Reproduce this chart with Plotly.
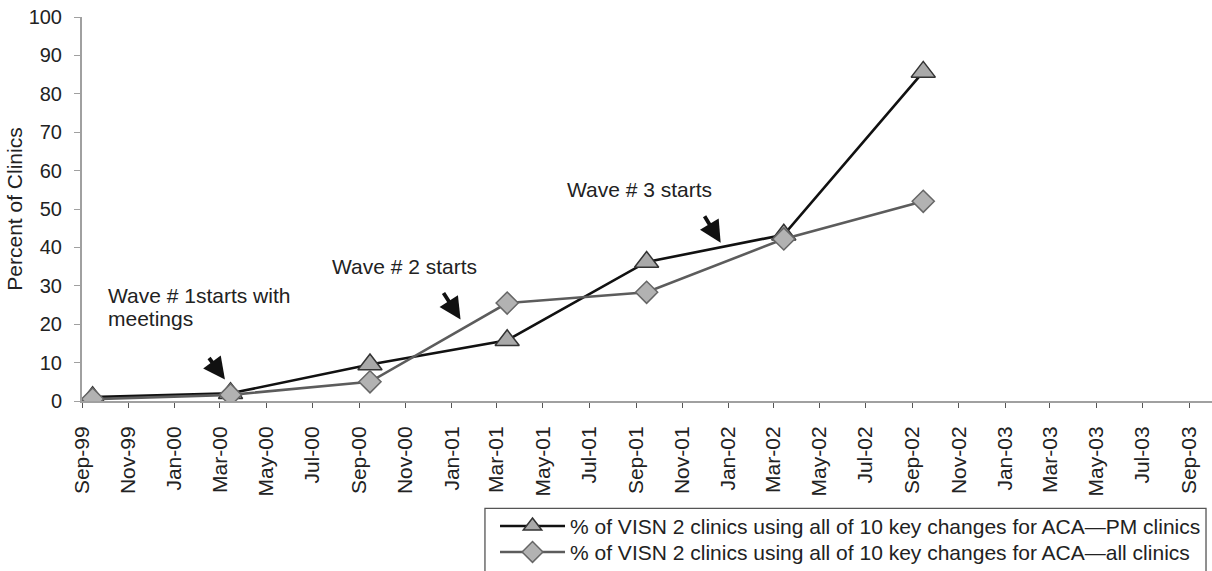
import plotly.graph_objects as go

dates = ["1999-09-15", "2000-03-15", "2000-09-15", "2001-03-15",
         "2001-09-15", "2002-03-15", "2002-09-15"]
pm_clinics = [1.0, 2.0, 9.5, 15.8, 36.2, 43.3, 85.7]
all_clinics = [0.5, 1.6, 5.0, 25.5, 28.3, 42.2, 52.0]

name_pm = "% of VISN 2 clinics using all of 10 key changes for ACA\u2014PM clinics"
name_all = "% of VISN 2 clinics using all of 10 key changes for ACA\u2014all clinics"

FONT = "Liberation Sans, Arial, sans-serif"

fig = go.Figure()
fig.add_trace(go.Scatter(
    x=dates, y=pm_clinics, name=name_pm, mode="lines+markers",
    legend="legend",
    line=dict(color="#111111", width=2.6),
    marker=dict(symbol="triangle-up", size=21, color="#a9a9a9",
                line=dict(color="#333333", width=1.5)),
))
fig.add_trace(go.Scatter(
    x=dates, y=all_clinics, name=name_all, mode="lines+markers",
    legend="legend2",
    line=dict(color="#5c5c5c", width=2.6),
    marker=dict(symbol="diamond", size=17, color="#b2b2b2",
                line=dict(color="#666666", width=1.5)),
))

ann_font = dict(family=FONT, size=21, color="#222222")
annotations = [
    dict(text="Wave # 1starts with", x=0.0215, y=0.275),
    dict(text="meetings", x=0.0215, y=0.214),
    dict(text="Wave # 2 starts", x=0.2195, y=0.35),
    dict(text="Wave # 3 starts", x=0.4274, y=0.55),
]
for a in annotations:
    fig.add_annotation(xref="paper", yref="paper", showarrow=False,
                       xanchor="left", yanchor="middle", align="left",
                       font=ann_font, **a)

arrows = [
    (0.1265, 0.056, -17, -23),
    (0.3350, 0.212, -18, -28),
    (0.5652, 0.412, -17, -28),
]
for x, y, ax, ay in arrows:
    fig.add_annotation(xref="paper", yref="paper", x=x, y=y, ax=ax, ay=ay,
                       text="", showarrow=True, arrowhead=2, arrowsize=1.15,
                       arrowwidth=3.8, arrowcolor="#111111")

# legend frame
fig.add_shape(type="rect", xref="paper", yref="paper",
              x0=0.3566, x1=0.9947, y0=-0.2796, y1=-0.49,
              line=dict(color="#555555", width=1.3), fillcolor="rgba(0,0,0,0)")

leg_common = dict(xanchor="left", yanchor="middle", borderwidth=0,
                  bgcolor="rgba(0,0,0,0)", itemwidth=65,
                  font=dict(family=FONT, size=21, color="#222222"))

fig.update_layout(
    width=1212, height=571,
    margin=dict(l=82, r=0, t=17, b=170, autoexpand=False),
    paper_bgcolor="white", plot_bgcolor="white",
    font=dict(family=FONT, size=20, color="#222222"),
    showlegend=True,
    legend=dict(x=0.3655, y=-0.3264, **leg_common),
    legend2=dict(x=0.3655, y=-0.394, **leg_common),
)
fig.update_xaxes(
    type="date", range=["1999-09-01", "2003-10-01"],
    tick0="1999-09-01", dtick="M2", tickformat="%b-%y", tickangle=-90,
    showgrid=False, zeroline=False, showline=True, linecolor="#a0a0a0",
    linewidth=2, ticks="outside", ticklen=5, tickcolor="#555555",
    ticklabelstandoff=10,
    tickfont=dict(family=FONT, size=21, color="#222222"),
)
fig.update_yaxes(
    range=[0, 100], dtick=10, showgrid=False, zeroline=False,
    showline=True, linecolor="#a0a0a0", linewidth=2,
    ticks="outside", ticklen=6, tickcolor="#a0a0a0", ticklabelstandoff=8,
    tickfont=dict(family=FONT, size=20, color="#222222"),
    title=dict(text="Percent of Clinics", standoff=0,
               font=dict(family=FONT, size=21, color="#222222")),
)

fig.write_html("out.html", config={"displayModeBar": False})

with open("out.html", "r", encoding="utf-8") as f:
    html = f.read()
html = html.replace("<head>", "<head><style>html,body{margin:0;padding:0;overflow:hidden}</style>", 1)
with open("out.html", "w", encoding="utf-8") as f:
    f.write(html)
